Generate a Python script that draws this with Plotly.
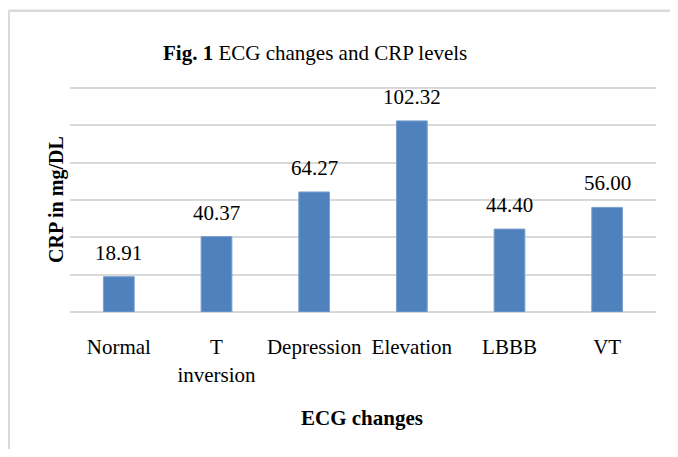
import plotly.graph_objects as go

categories = ["Normal", "T<br>inversion", "Depression", "Elevation", "LBBB", "VT"]
crp_values = [18.91, 40.37, 64.27, 102.32, 44.40, 56.00]
value_labels = ["18.91", "40.37", "64.27", "102.32", "44.40", "56.00"]
y_max = 121

OFF = 8  # page body margin offset
W, H = 678 - 2 * OFF, 457 - 2 * OFF
scale = 225 / 120.0
plot_top_scr = 312.5 - y_max * scale
L = 70 - OFF
R = W - (656 - OFF)
T = plot_top_scr - OFF
B = H - (312.5 - OFF)
pw, ph = W - L - R, H - T - B

def px_x(p):
    return (p - OFF - L) / pw

def px_y(p):
    return (H - B - (p - OFF)) / ph

FONT = "Liberation Serif"
GRID = "#D9D9D9"

fig = go.Figure()
fig.add_trace(go.Bar(
    x=categories, y=crp_values,
    marker=dict(color="#4F81BD", line=dict(color="#7BA0CD", width=1)),
    hoverinfo="skip",
))

annotations = []
for c, v, t in zip(categories, crp_values, value_labels):
    annotations.append(dict(x=c, y=v, xref="x", yref="y", text=t, showarrow=False,
                            yanchor="bottom", yshift=10,
                            font=dict(family=FONT, size=21, color="black")))

annotations.append(dict(xref="paper", yref="paper", x=px_x(315), y=px_y(52),
                        text="<b>Fig. 1</b> ECG changes and CRP levels", showarrow=False,
                        xanchor="center", yanchor="middle",
                        font=dict(family=FONT, size=21, color="black")))
annotations.append(dict(xref="paper", yref="paper", x=px_x(57), y=px_y(200),
                        text="<b>CRP in mg/DL</b>", showarrow=False, textangle=-90,
                        xanchor="center", yanchor="middle",
                        font=dict(family=FONT, size=20, color="black")))
annotations.append(dict(xref="paper", yref="paper", x=px_x(362), y=px_y(419),
                        text="<b>ECG changes</b>", showarrow=False,
                        xanchor="center", yanchor="middle",
                        font=dict(family=FONT, size=21, color="black")))

border = dict(color=GRID, width=2.5)
fig.update_layout(
    width=W, height=H,
    margin=dict(l=L, r=R, t=T, b=B, pad=0),
    paper_bgcolor="white", plot_bgcolor="white",
    bargap=0.685,
    showlegend=False,
    annotations=annotations,
    shapes=[
        dict(type="line", xref="paper", yref="paper",
             x0=px_x(8.7), x1=px_x(720), y0=px_y(10), y1=px_y(10), line=border, layer="below"),
        dict(type="line", xref="paper", yref="paper",
             x0=px_x(8.7), x1=px_x(8.7), y0=px_y(10), y1=px_y(500), line=border, layer="below"),
    ],
    font=dict(family=FONT, size=21, color="black"),
)
fig.update_xaxes(
    showgrid=False, showline=False, zeroline=False,
    ticks="outside", ticklen=16, tickcolor="rgba(0,0,0,0)",
    tickfont=dict(family=FONT, size=21, color="black"),
)
fig.update_yaxes(
    range=[0, y_max], tick0=0, dtick=20,
    showticklabels=False, ticks="",
    showgrid=True, gridcolor=GRID, gridwidth=1.6,
    zeroline=True, zerolinecolor=GRID, zerolinewidth=1.6,
    showline=False,
)

fig.write_html("out.html")
